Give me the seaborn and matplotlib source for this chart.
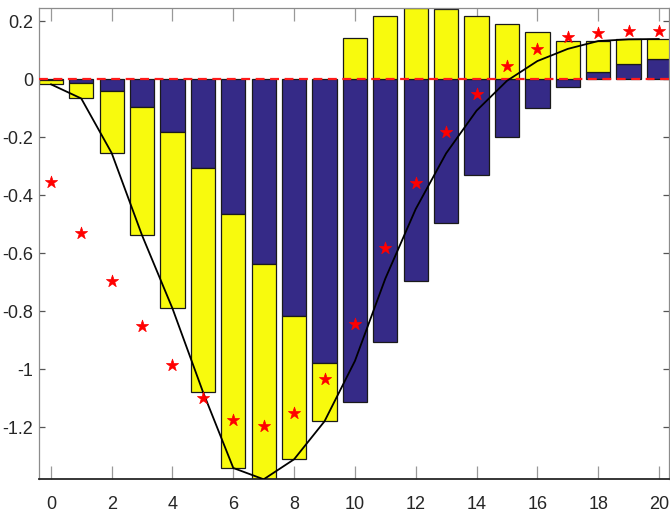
import numpy as np
import pandas as pd
import matplotlib
matplotlib.use("Agg")
import matplotlib.pyplot as plt
import seaborn as sns
from matplotlib import font_manager

periods = list(range(21))
navy_part = [-0.003, -0.015, -0.041, -0.095, -0.183, -0.308, -0.464, -0.637, -0.817, -0.978,
             -1.114, -0.907, -0.695, -0.498, -0.331, -0.199, -0.099, -0.028, 0.023, 0.052, 0.068]
yellow_part = [-0.015, -0.052, -0.214, -0.444, -0.608, -0.770, -0.877, -0.745, -0.494, -0.202,
               0.140, 0.217, 0.245, 0.240, 0.219, 0.191, 0.161, 0.132, 0.108, 0.085, 0.070]
total_line = [-0.018, -0.067, -0.255, -0.539, -0.791, -1.078, -1.341, -1.380, -1.311, -1.180,
              -0.972, -0.688, -0.448, -0.256, -0.109, -0.006, 0.062, 0.104, 0.131, 0.137, 0.138]
star_vals = [-0.354, -0.532, -0.695, -0.851, -0.986, -1.099, -1.176, -1.197, -1.153, -1.034,
             -0.843, -0.584, -0.360, -0.182, -0.053, 0.045, 0.103, 0.144, 0.160, 0.167, 0.167]
xtick_vals = list(range(0, 21, 2))
ytick_vals = [0.2, 0, -0.2, -0.4, -0.6, -0.8, -1, -1.2]
ytick_labels = ["0.2", "0", "-0.2", "-0.4", "-0.6", "-0.8", "-1", "-1.2"]

navy_col = "#352A87"
yellow_col = "#F8FA0D"

sns.set_theme(style="white")
names = {f.name for f in font_manager.fontManager.ttflist}
fam = "Liberation Sans Narrow" if "Liberation Sans Narrow" in names else "Liberation Sans"
plt.rcParams["font.family"] = [fam, "DejaVu Sans"]

df = pd.DataFrame({"t": periods, "navy": navy_part, "yellow": yellow_part,
                   "total": total_line, "star": star_vals})
# MATLAB-style stacking: same-sign parts stack, opposite-sign parts start at zero
yb = np.where(np.sign(df["yellow"]) == np.sign(df["navy"]), df["navy"], 0.0)

fig = plt.figure(figsize=(6.70, 5.19), dpi=100)
ax = fig.add_axes([0.0582, 0.0776, 0.9408, 0.907])

sns.barplot(data=df, x="t", y="navy", native_scale=True, color=navy_col, saturation=1,
            edgecolor="#1a1a1a", linewidth=0.9, width=0.8, errorbar=None, ax=ax, zorder=2)
sns.barplot(data=df, x="t", y="yellow", native_scale=True, color=yellow_col, saturation=1,
            edgecolor="#1a1a1a", linewidth=0.9, width=0.8, errorbar=None, ax=ax,
            bottom=yb, zorder=2)
ax.axhline(0, color="#ff1a1a", ls=(0, (4, 2.5)), lw=1.6, zorder=3)
sns.lineplot(data=df, x="t", y="total", color="black", lw=1.3, ax=ax, zorder=4)
sns.scatterplot(data=df, x="t", y="star", marker="*", s=85, color="red",
                edgecolor="red", linewidth=0.5, ax=ax, zorder=5)

ax.set_xlim(-0.39, 20.34)
ax.set_ylim(-1.378, 0.245)
ax.set_xticks(xtick_vals)
ax.set_xticklabels([str(v) for v in xtick_vals])
ax.set_yticks(ytick_vals)
ax.set_yticklabels(ytick_labels)
ax.set_xlabel("")
ax.set_ylabel("")

ax.tick_params(axis="x", direction="in", length=9.5, width=0.9, color="#999999",
               top=True, bottom=True, labelsize=13, pad=12.5, labelcolor="#262626")
ax.tick_params(axis="y", direction="in", length=4.5, width=0.9, color="#555555",
               left=True, right=True, labelsize=13, pad=4, labelcolor="#262626")
for side in ["left", "right", "top"]:
    ax.spines[side].set_color("#8c8c8c")
    ax.spines[side].set_linewidth(0.9)
ax.spines["bottom"].set_color("#262626")
ax.spines["bottom"].set_linewidth(1.3)
ax.grid(False)

fig.savefig("out.png", dpi=100)
